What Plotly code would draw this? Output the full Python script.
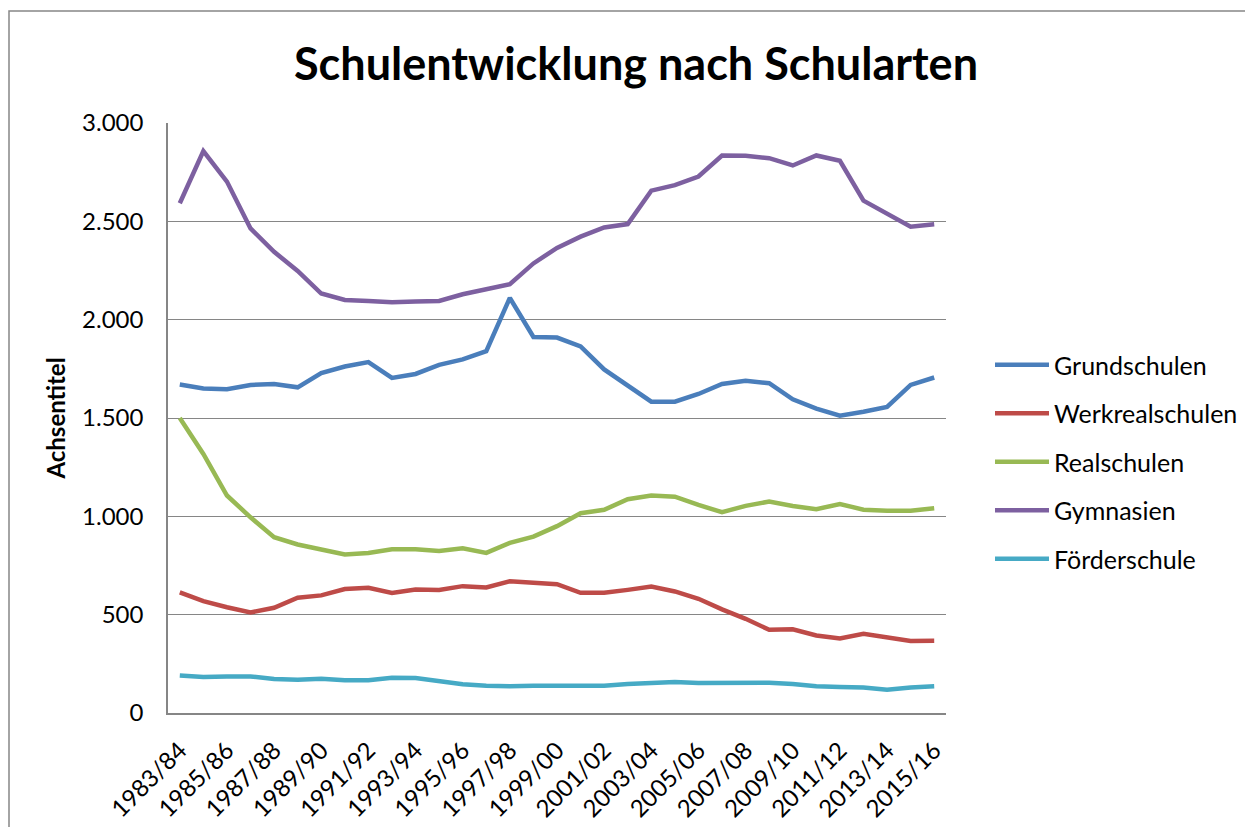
import plotly.graph_objects as go

categories = ["1983/84", "1984/85", "1985/86", "1986/87", "1987/88", "1988/89", "1989/90",
              "1990/91", "1991/92", "1992/93", "1993/94", "1994/95", "1995/96", "1996/97",
              "1997/98", "1998/99", "1999/00", "2000/01", "2001/02", "2002/03", "2003/04",
              "2004/05", "2005/06", "2006/07", "2007/08", "2008/09", "2009/10", "2010/11",
              "2011/12", "2012/13", "2013/14", "2014/15", "2015/16"]

tick_labels = ["1983/84", "1985/86", "1987/88", "1989/90", "1991/92", "1993/94", "1995/96",
               "1997/98", "1999/00", "2001/02", "2003/04", "2005/06", "2007/08", "2009/10",
               "2011/12", "2013/14", "2015/16"]

grundschulen = [1670, 1650, 1646, 1668, 1673, 1656, 1728, 1762, 1784, 1704, 1724, 1770, 1798,
                1840, 2111, 1912, 1909, 1864, 1747, 1667, 1583, 1583, 1622, 1673, 1689, 1677,
                1595, 1548, 1512, 1532, 1556, 1668, 1706]
werkrealschulen = [613, 569, 538, 511, 535, 586, 598, 630, 637, 610, 628, 625, 645, 638, 670,
                   665, 655, 611, 611, 626, 643, 618, 581, 527, 479, 423, 426, 394, 379, 403,
                   384, 366, 367]
realschulen = [1500, 1317, 1106, 995, 894, 857, 831, 806, 814, 833, 833, 824, 838, 814, 865,
               897, 950, 1016, 1033, 1087, 1106, 1100, 1058, 1021, 1053, 1075, 1053, 1036,
               1063, 1034, 1029, 1029, 1041]
gymnasien = [2592, 2857, 2702, 2464, 2345, 2248, 2133, 2100, 2095, 2088, 2092, 2095, 2129, 2155,
             2180, 2286, 2365, 2422, 2469, 2486, 2656, 2684, 2728, 2835, 2833, 2821, 2784, 2835,
             2808, 2605, 2541, 2473, 2485]
foerderschule = [191, 183, 185, 186, 173, 169, 174, 166, 166, 179, 178, 161, 146, 139, 136, 139,
                 140, 136, 139, 147, 152, 157, 152, 151, 154, 154, 147, 136, 132, 130, 118, 130,
                 136]

series_names = ["Grundschulen", "Werkrealschulen", "Realschulen", "Gymnasien", "Förderschule"]
series_values = [grundschulen, werkrealschulen, realschulen, gymnasien, foerderschule]
series_colors = ["#4A7EBB", "#BE4B48", "#98B954", "#7D60A0", "#46AAC5"]

FONT = "Lato"
GRID = "#868686"

fig = go.Figure()
for name, vals, col in zip(series_names, series_values, series_colors):
    fig.add_trace(go.Scatter(
        x=categories, y=vals, mode="lines", name=name, legendgroup=name,
        line=dict(color=col, width=4.5, shape="linear"),
    ))

# page body has an 8px margin, so the figure is drawn shifted by OFF pixels
OFF = 8
W, H = 1253, 827
ml, mt = 168 - OFF, 123 - OFF
mr = W - (946 - OFF)
mb = H - (713 - OFF)
pw, ph = W - ml - mr, H - mt - mb

def px_x(p):
    return (p - OFF - ml) / pw

def px_y(p):
    return 1 - (p - OFF - mt) / ph

fig.update_layout(
    width=W, height=H,
    margin=dict(l=ml, r=mr, t=mt, b=mb, autoexpand=False),
    paper_bgcolor="white", plot_bgcolor="white",
    separators=",.",
    font=dict(family=FONT, size=24, color="black"),
    title=dict(text="<b>Schulentwicklung nach Schularten</b>",
               font=dict(family=FONT, size=45, color="black"),
               x=(636 - OFF) / W, xref="container", xanchor="center",
               y=1 - (64 - OFF) / H, yref="container", yanchor="middle"),
    showlegend=True,
    legend=dict(x=px_x(990), y=px_y(462), xanchor="left", yanchor="middle",
                font=dict(family=FONT, size=25, color="black"),
                itemwidth=54, tracegroupgap=13, traceorder="grouped",
                bgcolor="rgba(0,0,0,0)"),
    xaxis=dict(type="category", range=[-0.5, len(categories) - 0.5],
               tickmode="array", tickvals=tick_labels, ticktext=tick_labels,
               tickangle=-45, showgrid=False, showline=True, linecolor=GRID,
               linewidth=1.5, ticks="", ticklabelstandoff=12,
               tickfont=dict(family=FONT, size=24, color="black")),
    yaxis=dict(range=[0, 3000], dtick=500, tickformat=",.0f", showgrid=True,
               gridcolor=GRID, gridwidth=1.4, showline=True, linecolor=GRID,
               linewidth=1.5, ticks="", ticklabelstandoff=18, zeroline=False,
               tickfont=dict(family=FONT, size=24, color="black"),
               title=dict(text="<b>Achsentitel</b>", standoff=10,
                          font=dict(family=FONT, size=24, color="black"))),
    shapes=[dict(type="rect", xref="paper", yref="paper",
                 x0=px_x(9), y0=px_y(900), x1=px_x(1300), y1=px_y(11),
                 line=dict(color=GRID, width=1.5), fillcolor="rgba(0,0,0,0)",
                 layer="below")],
)

fig.write_html("out.html")
